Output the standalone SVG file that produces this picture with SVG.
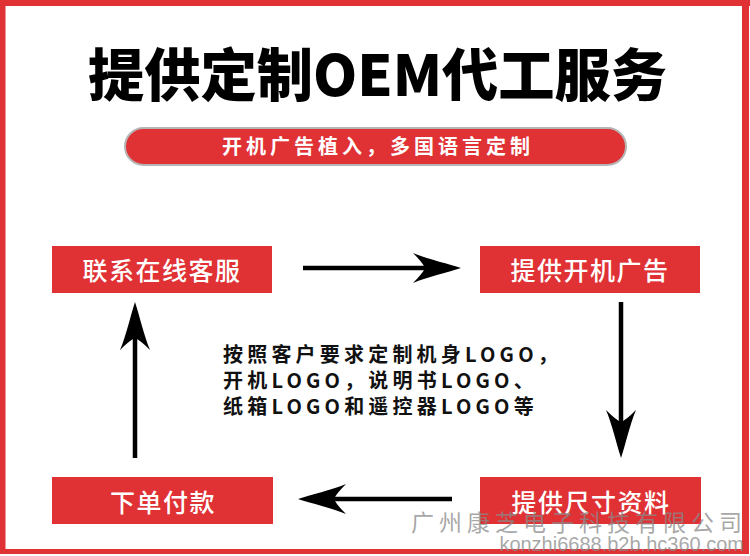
<svg xmlns="http://www.w3.org/2000/svg" width="750" height="556" viewBox="0 0 750 556">
<style>
.cjk{font-family:"Noto Sans CJK SC","Noto Sans",sans-serif;}
.box{fill:#e03134;}
.boxt{fill:#ffffff;font-size:25px;font-weight:500;letter-spacing:1.5px;text-anchor:middle;}
.mid{fill:#111;font-size:20px;font-weight:bold;letter-spacing:4.2px;}
.shaft{stroke:#000;stroke-width:4.5;fill:none;marker-end:url(#ah);}
.wm{fill:#8a8a8a;fill-opacity:0.75;}
</style>
<defs>
<marker id="ah" viewBox="0 0 48 30" refX="12" refY="15" markerWidth="48" markerHeight="30" markerUnits="userSpaceOnUse" orient="auto">
<path d="M48,15 C36,11 14,6 0,0 Q10,10 12,15 Q10,20 0,30 C14,24 36,19 48,15 Z" fill="#000"/>
</marker>
</defs>
<rect width="750" height="556" fill="#fff"/>
<g id="frame" fill="#e03134">
<rect x="0" y="0" width="750" height="6"/>
<rect x="0" y="0" width="5.5" height="554"/>
<rect x="742" y="0" width="7" height="554"/>
<rect x="0" y="549" width="749" height="5"/>
</g>
<g id="title">
<text class="cjk" x="88" y="96" font-size="57" font-weight="900" textLength="579" lengthAdjust="spacingAndGlyphs" fill="#000">提供定制OEM代工服务</text>
</g>
<g id="subtitle">
<rect x="125" y="128" width="501" height="37" rx="18.5" fill="#e03134" stroke="#b5b5b5" stroke-width="2"/>
<text class="cjk" x="378" y="153.5" font-size="20" font-weight="bold" text-anchor="middle" letter-spacing="4" fill="#fff">开机广告植入，多国语言定制</text>
</g>
<g id="n1">
<rect class="box" x="52" y="246" width="220" height="47"/>
<text class="cjk boxt" x="162" y="280">联系在线客服</text>
</g>
<g id="n2">
<rect class="box" x="480" y="246" width="220" height="47"/>
<text class="cjk boxt" x="590" y="280">提供开机广告</text>
</g>
<g id="n3">
<rect class="box" x="480" y="477" width="221" height="47"/>
<text class="cjk boxt" x="591" y="511.5">提供尺寸资料</text>
</g>
<g id="n4">
<rect class="box" x="52" y="477" width="221" height="47"/>
<text class="cjk boxt" x="163" y="511.5">下单付款</text>
</g>
<g id="connectors">
<path class="shaft" d="M303,268 L425,268"/>
<path class="shaft" d="M621,302 L621,422"/>
<path class="shaft" d="M452,499 L334,499"/>
<path class="shaft" d="M135,458 L135,338"/>
</g>
<g id="note">
<text class="cjk mid" x="223" y="362">按照客户要求定制机身LOGO，</text>
<text class="cjk mid" x="223" y="388">开机LOGO，说明书LOGO、</text>
<text class="cjk mid" x="223" y="413.5">纸箱LOGO和遥控器LOGO等</text>
</g>
<g id="watermark">
<text class="cjk wm" x="411" y="531" font-size="23" letter-spacing="5">广州康芝电子科技有限公司</text>
<text class="wm" x="744" y="551" font-size="20" text-anchor="end" font-family="'Liberation Sans',Arial,sans-serif">konzhi6688.b2b.hc360.com</text>
</g>
</svg>
